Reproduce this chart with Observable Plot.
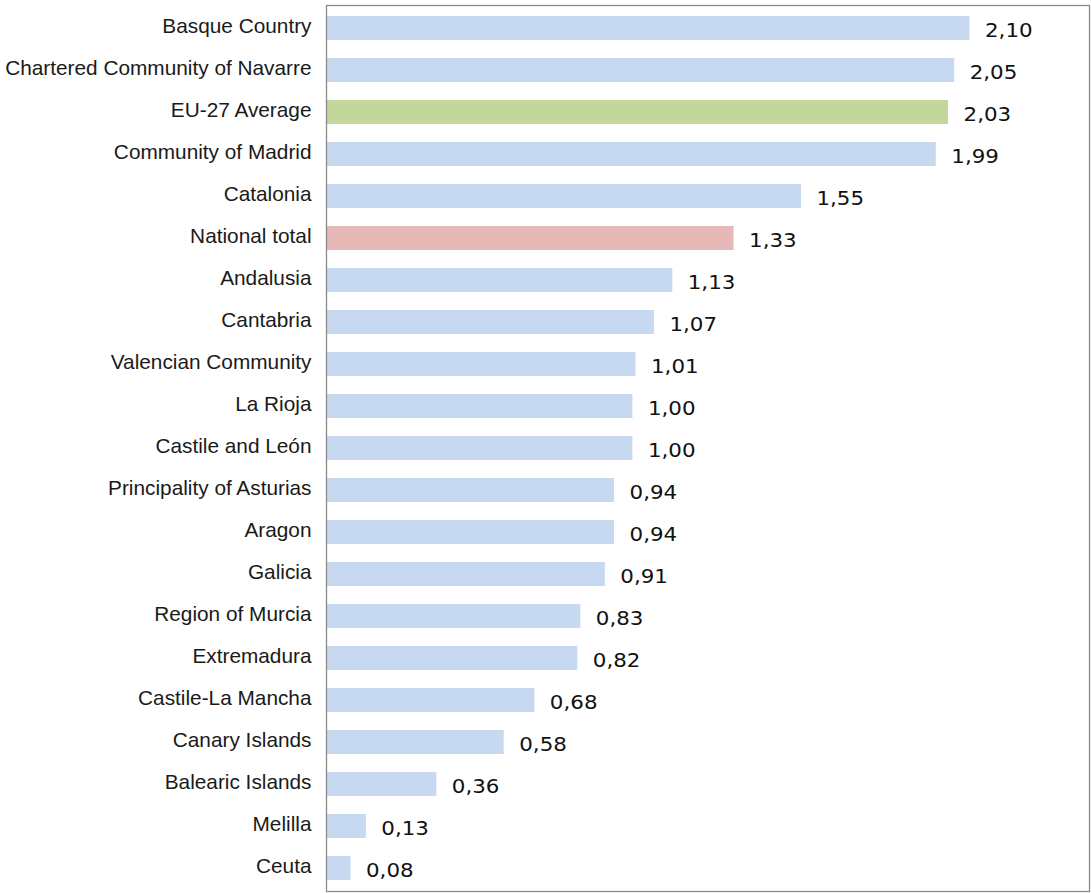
<!DOCTYPE html>
<html>
<head>
<meta charset="utf-8">
<script src="https://cdn.jsdelivr.net/npm/d3@7"></script>
<script src="https://cdn.jsdelivr.net/npm/@observablehq/plot@0.6"></script>
<style>
  html, body { margin: 0; padding: 0; background: #fff; }
  #chart { width: 1091px; height: 893px; }
</style>
</head>
<body>
<div id="chart"></div>
<script>
const regions = [
  "Basque Country", "Chartered Community of Navarre", "EU-27 Average", "Community of Madrid",
  "Catalonia", "National total", "Andalusia", "Cantabria", "Valencian Community", "La Rioja",
  "Castile and León", "Principality of Asturias", "Aragon", "Galicia", "Region of Murcia",
  "Extremadura", "Castile-La Mancha", "Canary Islands", "Balearic Islands", "Melilla", "Ceuta"
];
const values = [2.10, 2.05, 2.03, 1.99, 1.55, 1.33, 1.13, 1.07, 1.01, 1.00, 1.00, 0.94, 0.94, 0.91, 0.83, 0.82, 0.68, 0.58, 0.36, 0.13, 0.08];
const kinds = ["region","region","eu","region","region","national","region","region","region","region","region","region","region","region","region","region","region","region","region","region","region"];

const data = regions.map((r, i) => ({region: r, value: values[i], kind: kinds[i]}));
const fmt = v => d3.format(".2f")(v).replace(".", ",");

const chart = Plot.plot({
  width: 1091,
  height: 893,
  marginLeft: 326,
  marginRight: 2,
  marginTop: 5,
  marginBottom: 2,
  x: {domain: [0, 2.49], axis: null},
  y: {domain: regions, paddingInner: 0.43, paddingOuter: 0.24, label: null},
  color: {domain: ["region", "eu", "national"], range: ["#c6d9f1", "#c3d69b", "#e6b9b8"]},
  style: {fontFamily: "Liberation Sans, Arial, sans-serif", fontSize: "20.8px", color: "#000"},
  marks: [
    Plot.barX(data, {y: "region", x: "value", fill: "kind"}),
    Plot.text(data, {
      y: "region", x: "value", text: d => fmt(d.value),
      textAnchor: "start", dx: 15, dy: 2, fill: "#111", className: "vlabel"
    }),
    Plot.axisY({tickSize: 0, tickPadding: 15, dy: -2.5, fill: "#1a1a1a", label: null, className: "ylab"}),
    Plot.frame({stroke: "#8a8a8a", strokeWidth: 1.3})
  ]
});
d3.select(chart).selectAll(".vlabel text").each(function() {
  const el = d3.select(this);
  el.style("font-family", "DejaVu Sans").style("font-size", "20px");
  const t = el.attr("transform");
  if (t) {
    el.attr("transform", t + " scale(1.07,1)");
  } else {
    const x = +el.attr("x") || 0, y = +el.attr("y") || 0;
    el.attr("x", null).attr("y", null).attr("transform", `translate(${x},${y}) scale(1.07,1)`);
  }
});
d3.select(chart).selectAll(".ylab text").style("font-size", "20.8px");
document.getElementById("chart").appendChild(chart);
</script>
</body>
</html>
